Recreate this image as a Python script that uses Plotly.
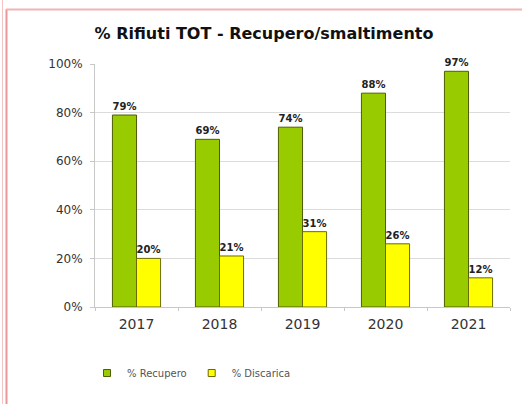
import plotly.graph_objects as go

years = ["2017", "2018", "2019", "2020", "2021"]
recupero = [0.79, 0.69, 0.74, 0.88, 0.97]
discarica = [0.20, 0.21, 0.31, 0.26, 0.12]

W, H = 522, 404
L, R, T, B = 95, 12, 64, 97
pw, ph = W - L - R, H - T - B

def px_x(x):
    return (x - L) / pw

def px_y(y):
    return (H - B - y) / ph

lbl_font = dict(size=10, color="#222", family="DejaVu Sans", weight="bold")
green, yellow = "#99cc00", "#ffff00"
green_edge, yellow_edge = "#4f5e00", "#6b6b00"

fig = go.Figure()
fig.add_trace(go.Bar(
    x=years, y=recupero, name="% Recupero", showlegend=False,
    marker=dict(color=green, line=dict(color=green_edge, width=1)),
    text=[f"{v*100:.0f}%" for v in recupero], textposition="outside",
    textfont=lbl_font, cliponaxis=False,
))
fig.add_trace(go.Bar(
    x=years, y=discarica, name="% Discarica", showlegend=False,
    marker=dict(color=yellow, line=dict(color=yellow_edge, width=1)),
    text=[f"{v*100:.0f}%" for v in discarica], textposition="outside",
    textfont=lbl_font, cliponaxis=False,
))
# small square legend keys like the original
for name, c, e in [("% Recupero", green, green_edge), ("% Discarica", yellow, yellow_edge)]:
    fig.add_trace(go.Scatter(x=[None], y=[None], mode="markers", name=name,
                             marker=dict(symbol="square", size=7, color=c,
                                         line=dict(color=e, width=1))))

fig.update_layout(
    width=W, height=H,
    margin=dict(l=L, r=R, t=T, b=B),
    paper_bgcolor="white", plot_bgcolor="white",
    font=dict(family="DejaVu Sans", color="#444"),
    barmode="group", bargap=0.42, bargroupgap=0,
    title=dict(text="<b>% Rifiuti TOT - Recupero/smaltimento</b>",
               x=px_x(264), xref="paper", xanchor="center",
               y=1 - 33 / H, yanchor="middle",
               font=dict(size=16, color="#111")),
    legend=dict(orientation="h", x=px_x(87), xanchor="left",
                y=px_y(373), yanchor="middle",
                font=dict(size=10, color="#555"),
                itemwidth=30, traceorder="normal"),
    shapes=[
        dict(type="line", xref="paper", yref="paper",
             x0=px_x(2.5), x1=px_x(2.5), y0=px_y(0), y1=px_y(H),
             line=dict(color="#f4c4c4", width=1)),
        dict(type="line", xref="paper", yref="paper",
             x0=px_x(6.5), x1=px_x(6.5), y0=px_y(9), y1=px_y(H),
             line=dict(color="#e89898", width=2)),
        dict(type="line", xref="paper", yref="paper",
             x0=px_x(6), x1=px_x(W), y0=px_y(9.5), y1=px_y(9.5),
             line=dict(color="#f0b4b4", width=2)),
    ],
)
fig.update_xaxes(showline=True, linecolor="#c8c8c8", ticks="outside",
                 tickson="boundaries", ticklen=3, tickcolor="#c8c8c8",
                 ticklabelstandoff=4,
                 tickfont=dict(size=14, color="#333"), showgrid=False)
fig.update_yaxes(range=[0, 1], dtick=0.2, tickformat=".0%",
                 showline=True, linecolor="#c8c8c8", ticks="outside",
                 ticklen=4, tickcolor="#c8c8c8", ticklabelstandoff=5,
                 gridcolor="#dcdcdc", zeroline=False,
                 tickfont=dict(size=12, color="#333"))

fig.write_html("out.html", config={"displayModeBar": False},
               post_script="document.body.style.margin='0';")
